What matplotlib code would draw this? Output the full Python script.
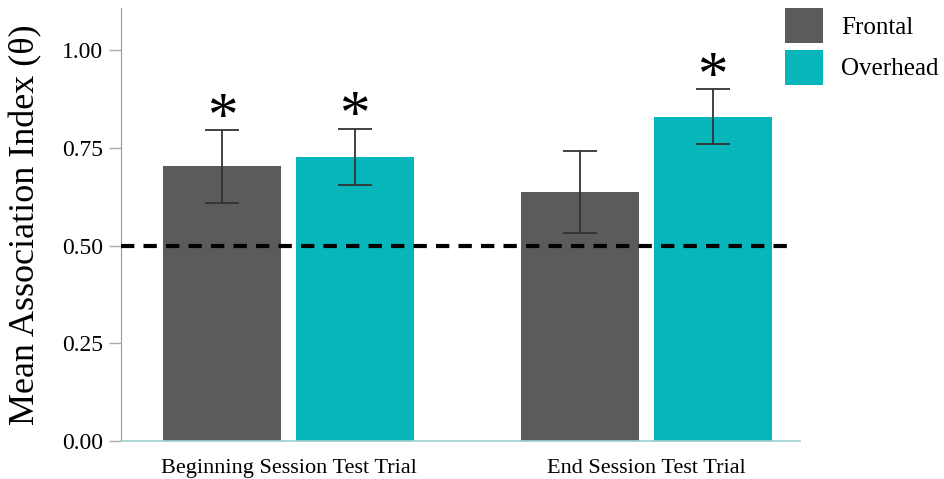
import numpy as np
import matplotlib.pyplot as plt
from matplotlib.patches import Patch

plt.rcParams['font.family'] = ['Liberation Serif', 'DejaVu Serif']

# data
groups = ['Beginning Session Test Trial', 'End Session Test Trial']
series = ['Frontal', 'Overhead']
frontal = [0.703, 0.637]
frontal_err_lo = [0.610, 0.532]
frontal_err_hi = [0.795, 0.742]
overhead = [0.727, 0.829]
overhead_err_lo = [0.655, 0.760]
overhead_err_hi = [0.800, 0.900]
signif = [[True, True], [False, True]]  # [group][series]
chance = 0.5
yticks = [0.0, 0.25, 0.5, 0.75, 1.0]

colors = ['#5b5b5b', '#06b6ba']

fig = plt.figure(figsize=(9.45, 4.79), dpi=100)
ax = fig.add_axes([0.128, 0.079, 0.719, 0.904])

x = np.arange(len(groups))
w = 0.33
off = 0.185
vals = [frontal, overhead]
lo = [frontal_err_lo, overhead_err_lo]
hi = [frontal_err_hi, overhead_err_hi]
for k in range(2):
    xs = x + (k * 2 - 1) * off
    v = np.array(vals[k])
    yerr = [v - np.array(lo[k]), np.array(hi[k]) - v]
    ax.bar(xs, v, w, color=colors[k], zorder=2)
    ax.errorbar(xs, v, yerr=yerr, fmt='none', ecolor='#333333',
                elinewidth=1.3, capsize=12, capthick=1.3, zorder=3)
    for g in range(len(groups)):
        if signif[g][k]:
            ax.text(xs[g], hi[k][g] - 0.042, '*', ha='center', va='bottom',
                    fontsize=44, color='black')

ax.axhline(chance, xmax=0.98, color='black', lw=3, ls=(0, (3.2, 2.2)), zorder=4)

ax.set_xlim(-0.468, 1.43)
ax.set_ylim(0, 1.108)
ax.set_yticks(yticks)
ax.set_yticklabels([f'{t:.2f}' for t in yticks], fontsize=17)
ax.set_xticks(x)
ax.set_xticklabels(groups, fontsize=16)
ax.tick_params(axis='x', length=0, pad=13)
ax.tick_params(axis='y', length=9, color='#aaaaaa', width=1, pad=4)
ax.set_ylabel('Mean Association Index (θ)', fontsize=26, labelpad=14)

ax.spines['top'].set_visible(False)
ax.spines['right'].set_visible(False)
ax.spines['left'].set_color('#999999')
ax.spines['bottom'].set_color('#9ccfd0')
ax.spines['bottom'].set_linewidth(1.2)

handles = [Patch(facecolor=c, label=s) for c, s in zip(colors, series)]
fig.legend(handles=handles, loc='upper right', bbox_to_anchor=(1.012, 1.02),
           frameon=False, fontsize=18, handlelength=1.5, handleheight=1.8,
           labelspacing=0.25, handletextpad=0.75, borderaxespad=0.3)

fig.savefig('out.png', dpi=100)
